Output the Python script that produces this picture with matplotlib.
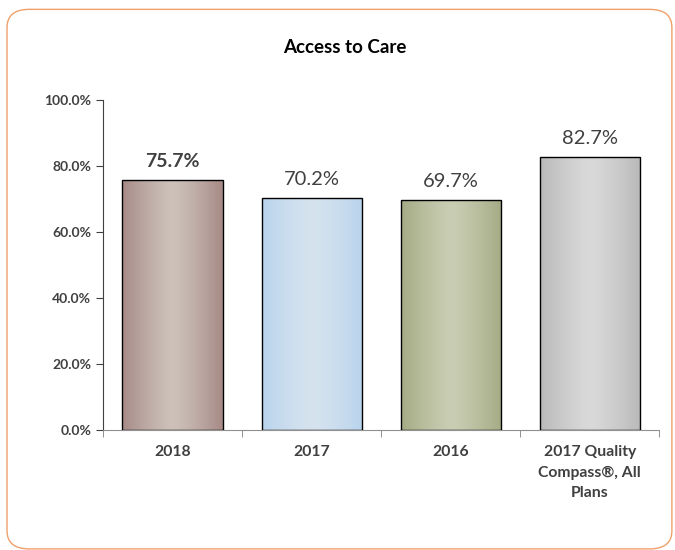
import numpy as np
import matplotlib
matplotlib.use("Agg")
import matplotlib.pyplot as plt
from matplotlib.patches import FancyBboxPatch
from matplotlib.colors import LinearSegmentedColormap

plt.rcParams['font.family'] = ['Lato', 'DejaVu Sans']

# data
categories = ["2018", "2017", "2016", "2017 Quality\nCompass®, All\nPlans"]
values = [75.7, 70.2, 69.7, 82.7]
labels = ["75.7%", "70.2%", "69.7%", "82.7%"]
edge_colors = ["#a68a86", "#b9d4ed", "#a4ab84", "#b9b9b9"]
mid_colors = ["#cdc1ba", "#d6e3ef", "#c9cdb3", "#d9d9d9"]

fig = plt.figure(figsize=(6.75, 5.5), dpi=100)
ax = fig.add_axes([0.1526, 0.218, 0.824, 0.6])

# rounded orange frame
frame = FancyBboxPatch((0.0104, 0.002), 0.985, 0.981, boxstyle="round,pad=0,rounding_size=0.033",
                       transform=fig.transFigure, facecolor="none", edgecolor="#f0a06a",
                       linewidth=1.0, clip_on=False)
fig.patches.append(frame)

x = np.arange(len(categories))
width = 0.72
bars = ax.bar(x, values, width=width, color="none", edgecolor="black", linewidth=1.0, zorder=3)

# horizontal gradient: dark edges, light middle
grad = np.abs(np.linspace(-1, 1, 256)) ** 1.3
for bar, c0, c1 in zip(bars, edge_colors, mid_colors):
    cmap = LinearSegmentedColormap.from_list("g", [c1, c0])
    bx, bw, bh = bar.get_x(), bar.get_width(), bar.get_height()
    im = ax.imshow(grad[np.newaxis, :], cmap=cmap, aspect="auto", vmin=0, vmax=1,
                   extent=(bx, bx + bw, 0, bh), zorder=2, interpolation="bicubic")
    im.set_clip_path(bar)

for i, (v, lab) in enumerate(zip(values, labels)):
    bold = i == 0
    ax.text(x[i], v + 3.2, lab, ha="center", va="bottom",
            fontsize=14 if bold else 14.5, fontweight="bold" if bold else "normal",
            color="#404040")

ax.set_xlim(-0.5, 3.5)
ax.set_ylim(0, 100)
ax.set_yticks(np.arange(0, 101, 20))
ax.set_yticklabels([f"{t:.1f}%" for t in np.arange(0, 101, 20)], fontsize=10,
                   fontweight="bold", color="#404040")
ax.set_xticks(x)
ax.set_xticklabels(categories, fontsize=11.3, fontweight="bold", color="#404040",
                   linespacing=1.55, va="top")
ax.tick_params(axis="x", length=0, pad=11)
ax.set_xticks(np.arange(-0.5, 3.6, 1), minor=True)
ax.tick_params(axis="x", which="minor", length=5, color="#808080")
ax.tick_params(axis="y", length=5, color="#404040")

for s in ["top", "right"]:
    ax.spines[s].set_visible(False)
ax.spines["bottom"].set_color("#909090")
ax.spines["left"].set_color("#404040")

fig.text(0.511, 0.914, "Access to Care", ha="center", va="center", fontsize=13.5,
         fontweight="bold", color="black")

fig.savefig("out.png", dpi=100)
